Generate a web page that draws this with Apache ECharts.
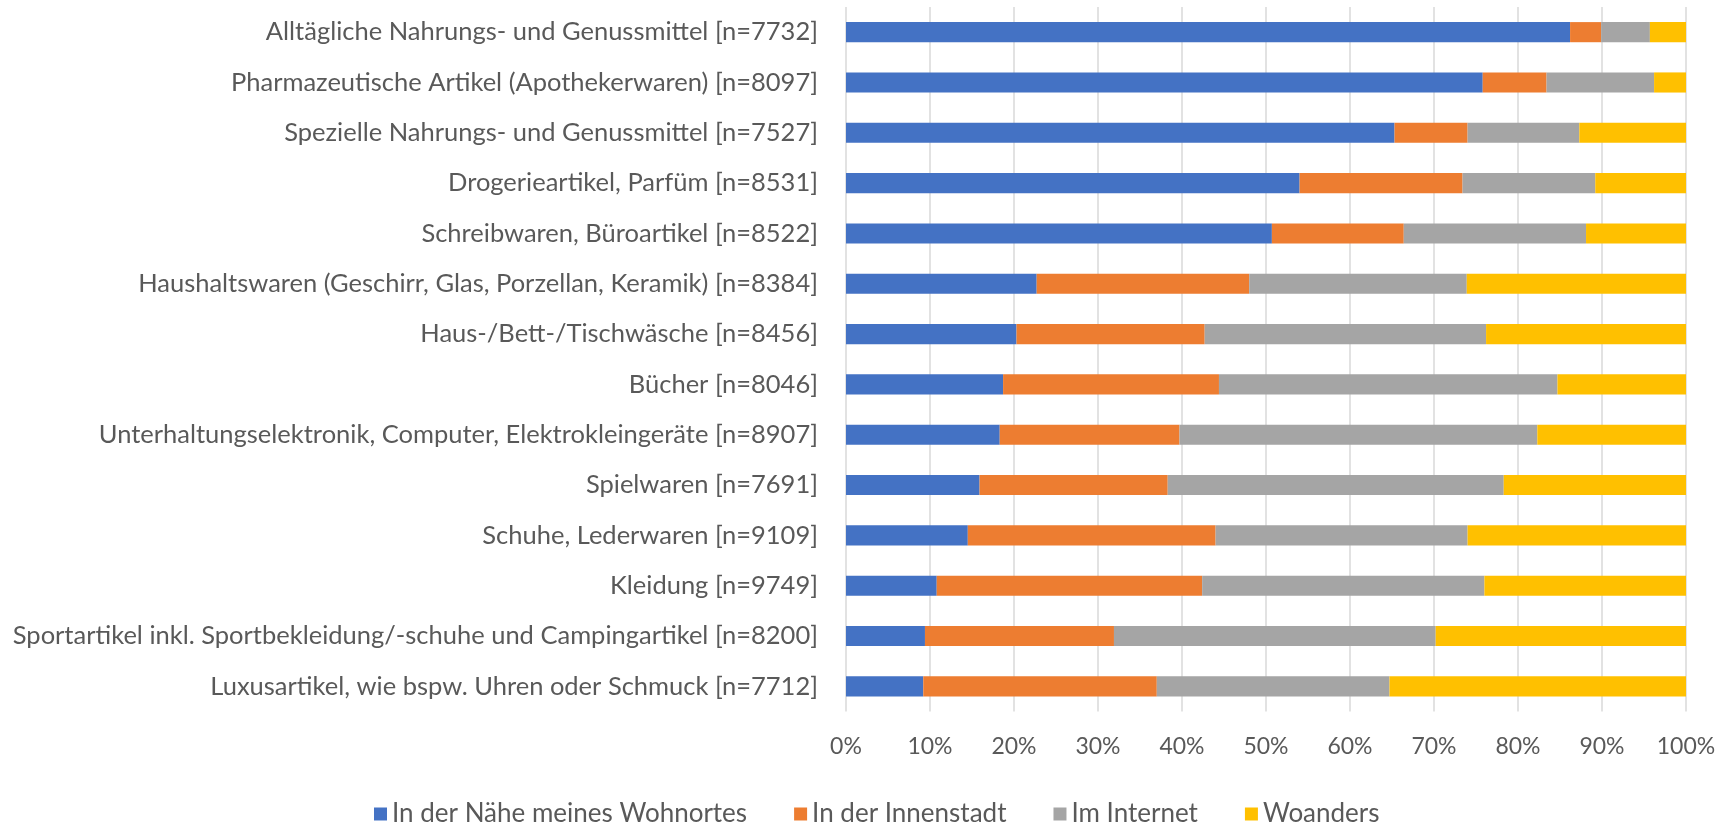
<!DOCTYPE html>
<html>
<head>
<meta charset="utf-8">
<script src="https://cdn.jsdelivr.net/npm/echarts@6/dist/echarts.min.js"></script>
<style>
html,body{margin:0;padding:0;background:#fff;}
#chart{width:1721px;height:825px;}
</style>
</head>
<body>
<div id="chart"></div>
<script>
const categories = [
  "Alltägliche Nahrungs- und Genussmittel [n=7732]",
  "Pharmazeutische Artikel (Apothekerwaren) [n=8097]",
  "Spezielle Nahrungs- und Genussmittel [n=7527]",
  "Drogerieartikel, Parfüm [n=8531]",
  "Schreibwaren, Büroartikel [n=8522]",
  "Haushaltswaren (Geschirr, Glas, Porzellan, Keramik) [n=8384]",
  "Haus-/Bett-/Tischwäsche [n=8456]",
  "Bücher [n=8046]",
  "Unterhaltungselektronik, Computer, Elektrokleingeräte [n=8907]",
  "Spielwaren [n=7691]",
  "Schuhe, Lederwaren [n=9109]",
  "Kleidung [n=9749]",
  "Sportartikel inkl. Sportbekleidung/-schuhe und Campingartikel [n=8200]",
  "Luxusartikel, wie bspw. Uhren oder Schmuck [n=7712]"
];
const seriesNames = ["In der Nähe meines Wohnortes", "In der Innenstadt", "Im Internet", "Woanders"];
const naehe      = [86.2, 75.8, 65.3, 54.0, 50.7, 22.7, 20.3, 18.7, 18.3, 15.9, 14.5, 10.8, 9.4, 9.2];
const innenstadt = [3.7, 7.6, 8.7, 19.4, 15.7, 25.3, 22.4, 25.7, 21.4, 22.4, 29.5, 31.6, 22.5, 27.8];
const internet   = [5.8, 12.8, 13.3, 15.8, 21.7, 25.9, 33.5, 40.3, 42.6, 40.0, 30.0, 33.6, 38.3, 27.7];
const woanders   = [4.3, 3.8, 12.7, 10.8, 11.9, 26.1, 23.8, 15.3, 17.7, 21.7, 26.0, 24.0, 29.8, 35.3];
const xTicks = [0, 10, 20, 30, 40, 50, 60, 70, 80, 90, 100];
const colors = ["#4472C4", "#ED7D31", "#A5A5A5", "#FFC000"];

const FONT = "Lato";
const values = [naehe, innenstadt, internet, woanders];

const chart = echarts.init(document.getElementById('chart'), null, {renderer: 'canvas'});
chart.setOption({
  animation: false,
  backgroundColor: '#ffffff',
  textStyle: {fontFamily: FONT},
  grid: {left: 846, right: 35, top: 7, bottom: 113.5, containLabel: false},
  legend: {
    data: seriesNames,
    left: 369,
    top: 796,
    itemWidth: 13,
    itemHeight: 13,
    itemGap: 47,
    icon: 'rect',
    textStyle: {fontFamily: FONT, fontSize: 26, color: '#595959'}
  },
  xAxis: {
    type: 'value',
    min: xTicks[0],
    max: xTicks[xTicks.length - 1],
    interval: 10,
    axisLine: {show: false},
    axisTick: {show: false},
    splitLine: {show: true, lineStyle: {color: '#D9D9D9', width: 1.5}},
    axisLabel: {formatter: '{value}%', fontFamily: FONT, fontSize: 23, color: '#595959', margin: 24}
  },
  yAxis: {
    type: 'category',
    inverse: true,
    data: categories,
    axisLine: {show: false},
    axisTick: {show: false},
    axisLabel: {fontFamily: FONT, fontSize: 25.5, color: '#595959', margin: 28}
  },
  series: seriesNames.map((name, i) => ({
    name: name,
    type: 'bar',
    stack: 'total',
    barWidth: '40%',
    itemStyle: {color: colors[i]},
    data: values[i]
  }))
});
</script>
</body>
</html>
